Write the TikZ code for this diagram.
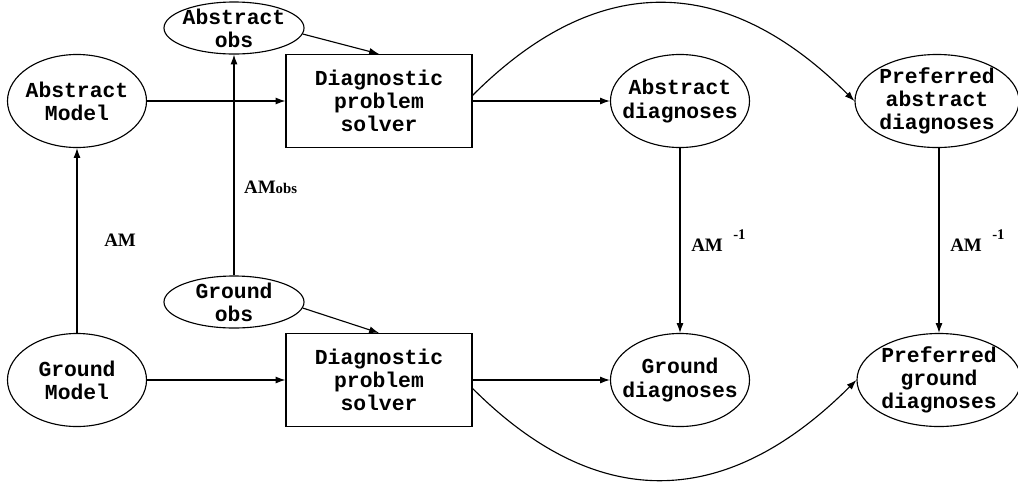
\documentclass[tikz,border=0pt]{standalone}
\usepackage{fontspec}
\setmainfont{Liberation Serif}
\setmonofont{Liberation Mono}
\usetikzlibrary{arrows.meta, shapes.geometric}
\newcommand{\am}{\textbf{AM}}
\newcommand{\aminv}{\textbf{AM}\hspace{0.55em}\raisebox{1.4ex}{\fontsize{10.5}{12}\selectfont\textbf{-1}}}

\begin{document}
\begin{tikzpicture}[x=0.025cm, y=-0.025cm, >={Latex[length=7pt, width=5pt]}, line width=0.8pt,
  every node/.style={font=\ttfamily\bfseries\fontsize{15.2}{16.5}\selectfont, align=center, line width=0.8pt},
  oval/.style={draw, ellipse, inner sep=-8pt, minimum width=3.475cm, minimum height=2.325cm},
  obsoval/.style={draw, ellipse, inner sep=-8pt, minimum width=3.5cm, minimum height=1.3cm},
  prefoval/.style={oval, minimum width=4.1cm},
  solver/.style={draw, rectangle, minimum width=4.65cm, minimum height=2.325cm},
  map/.style={font=\bfseries\fontsize{13.5}{15}\selectfont}]
\useasboundingbox (0, 0) rectangle (1018, 482);
\node[oval] (AMod) at (77, 101) {Abstract\\Model};
\node[obsoval] (AObs) at (234, 28) {Abstract\\obs};
\node[solver] (SolA) at (379, 101) {Diagnostic\\problem\\solver};
\node[oval] (ADiag) at (680, 101) {Abstract\\diagnoses};
\node[prefoval] (PADiag) at (937, 101) {Preferred\\abstract\\diagnoses};
\node[oval] (GMod) at (77, 380) {Ground\\Model};
\node[obsoval] (GObs) at (234, 302) {Ground\\obs};
\node[solver] (SolG) at (379, 380) {Diagnostic\\problem\\solver};
\node[oval] (GDiag) at (680, 380) {Ground\\diagnoses};
\node[prefoval] (PGDiag) at (939, 380) {Preferred\\ground\\diagnoses};
\draw[->] (GMod) to node[midway, right=0.55cm, map] {\am} (AMod);
\draw[->] (GObs) to node[pos=0.4, right=0.12cm, map] {\am{\fontsize{10.5}{12}\selectfont\textbf{obs}}} (AObs);
\draw[->] (AMod) to (SolA);
\draw[->] (GMod) to (SolG);
\draw[->] (AObs.-5) to (SolA.north);
\draw[->] (GObs.-5) to (SolG.north);
\draw[->] (SolA) to (ADiag);
\draw[->] (SolG) to (GDiag);
\draw[->] ([yshift=4pt]SolA.east) to[out=45, in=135, looseness=1.2] (PADiag.west);
\draw[->] ([yshift=-6pt]SolG.east) to[out=-45, in=-135, looseness=1.2] (PGDiag.west);
\draw[->] (PADiag.south -| PGDiag) to node[midway, right=0.15cm, map] {\aminv} (PGDiag);
\draw[->] (ADiag) to node[midway, right=0.15cm, map] {\aminv} (GDiag);
\end{tikzpicture}
\end{document}
